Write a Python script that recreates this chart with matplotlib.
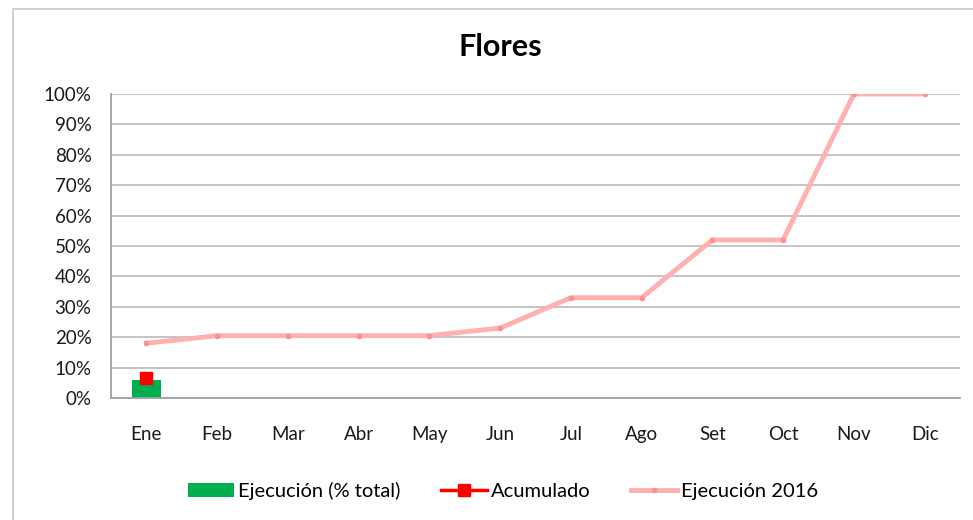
import matplotlib
matplotlib.use('Agg')
import matplotlib.pyplot as plt
from matplotlib.patches import Rectangle
import numpy as np

plt.rcParams['font.family'] = ['Lato', 'DejaVu Sans']
plt.rcParams['ytick.major.pad'] = 14
plt.rcParams['xtick.major.pad'] = 20

# data
meses = ['Ene', 'Feb', 'Mar', 'Abr', 'May', 'Jun', 'Jul', 'Ago', 'Set', 'Oct', 'Nov', 'Dic']
ejecucion = [5.8]                       # % total, only Ene reported
acumulado = [6.5]
ejecucion_2016 = [18, 20.5, 20.5, 20.5, 20.5, 23, 33, 33, 52, 52, 100, 100]

fig = plt.figure(figsize=(9.73, 5.2), dpi=100)
ax = fig.add_axes([111/973, 1 - 398/520, (960 - 111)/973, (398 - 94)/520])

# chart frame
fig.patches.append(Rectangle((13/973, -0.1), 1.2, 1 - 9/520 + 0.1, transform=fig.transFigure,
                             fill=False, edgecolor='#c8c8c8', lw=1.2))

x = np.arange(len(meses))
ax.bar(x[:len(ejecucion)], ejecucion, width=0.4, color='#00b050', label='Ejecución (% total)', zorder=2)
ax.plot(x[:len(acumulado)], acumulado, color='#ff0000', lw=2.5, marker='s', markersize=9,
        label='Acumulado', zorder=4)
ax.plot(x, ejecucion_2016, color='#ffb0b0', lw=3.5, marker='o', markersize=3,
        markerfacecolor='#ff9090', markeredgecolor='#ff9090', label='Ejecución 2016', zorder=3)

ax.set_xlim(-0.5, len(meses) - 0.5)
ax.set_ylim(0, 100)
ax.set_yticks(np.arange(0, 101, 10))
ax.set_yticklabels([f'{v}%' for v in range(0, 101, 10)])
ax.set_xticks(x)
ax.set_xticklabels(meses)
ax.tick_params(axis='both', length=0, labelsize=13.5, colors='#1a1a1a')
ax.yaxis.grid(True, color='#bfbfbf', lw=1.3)
ax.set_axisbelow(True)
for s in ['top', 'right']:
    ax.spines[s].set_visible(False)
for s in ['left', 'bottom']:
    ax.spines[s].set_color('#a0a0a0')
    ax.spines[s].set_linewidth(1.3)

fig.text(500/973, 1 - 47/520, 'Flores', ha='center', va='center', fontsize=22, fontweight='bold')

h, l = ax.get_legend_handles_labels()
order = [2, 0, 1]
fig.legend([h[i] for i in order], [l[i] for i in order], loc='center', bbox_to_anchor=(503/973, 1 - 491/520),
           ncol=3, frameon=False, fontsize=14.5, handlelength=2.3, columnspacing=2.0, handletextpad=0.2)

fig.savefig('out.png', dpi=100)
